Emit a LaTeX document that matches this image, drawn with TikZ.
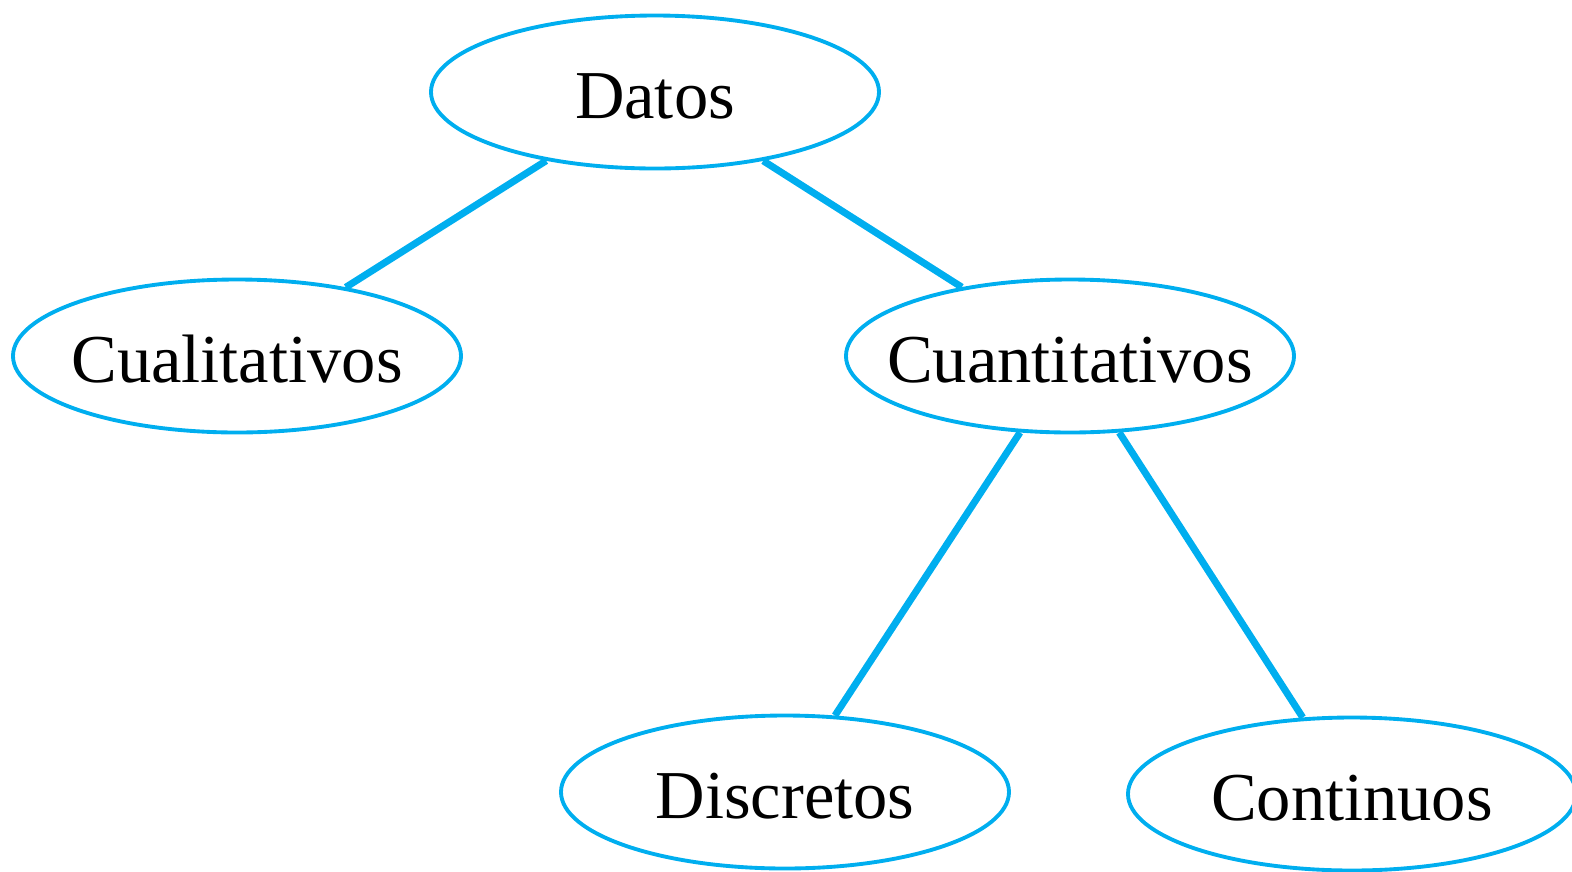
\documentclass[tikz,border=0pt]{standalone}
\usepackage{fontspec}
\setmainfont{Liberation Serif}
\usetikzlibrary{shapes.geometric}
\definecolor{cyn}{RGB}{0,174,239}
\newcommand{\lbl}[1]{\raisebox{-2.6mm}[0pt][0pt]{\makebox[0pt]{#1}}}

\begin{document}
\begin{tikzpicture}[
  blob/.style={draw=cyn, line width=1.1pt, ellipse, inner sep=0pt,
    minimum width=4.48cm, minimum height=1.53cm,
    font=\fontsize{19.5}{23}\selectfont},
  link/.style={draw=cyn, line width=2pt}]
\useasboundingbox (0,0) rectangle (15.72,-8.71);

\node[blob] (datos) at (6.55,-0.92) {\lbl{Datos}};
\node[blob] (cuali) at (2.37,-3.56) {\lbl{Cualitativos}};
\node[blob] (cuanti) at (10.70,-3.56) {\lbl{Cuantitativos}};
\node[blob] (disc) at (7.85,-7.92) {\lbl{Discretos}};
\node[blob] (cont) at (13.52,-7.94) {\lbl{Continuos}};

\draw[link] (datos) -- (cuali);
\draw[link] (datos) -- (cuanti);
\draw[link] (cuanti) -- (disc);
\draw[link] (cuanti) -- (cont); % right branch
\end{tikzpicture}
\end{document}
